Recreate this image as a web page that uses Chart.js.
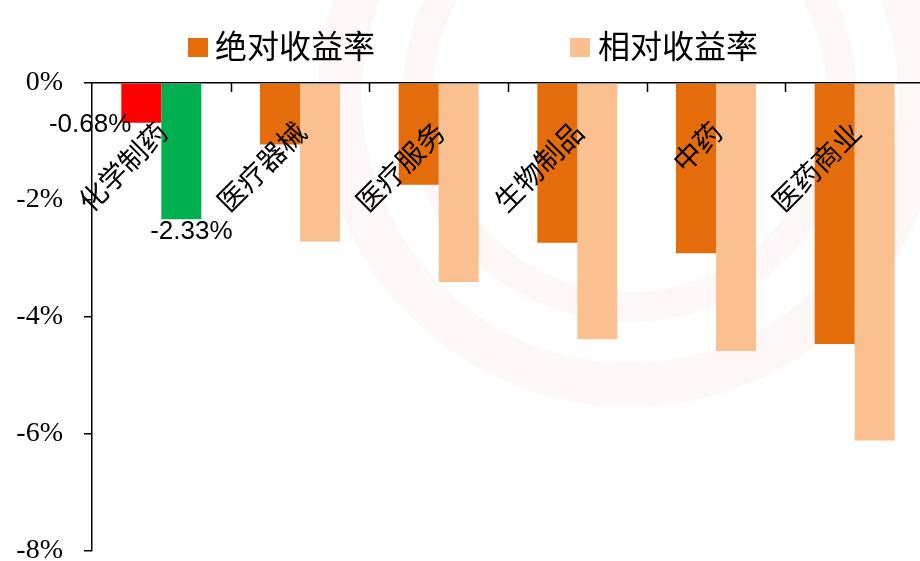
<!DOCTYPE html>
<html>
<head>
<meta charset="utf-8">
<script src="https://cdn.jsdelivr.net/npm/chart.js@4/dist/chart.umd.min.js"></script>
<style>
  html, body { margin: 0; padding: 0; background: #ffffff; overflow: hidden; width: 920px; height: 561px; }
  #wrap { position: absolute; left: 0; top: 0; width: 930px; height: 561px; }
</style>
</head>
<body>
<div id="wrap"><canvas id="c" width="930" height="561"></canvas></div>
<script>
// ---- data ----
const categories = ['化学制药', '医疗器械', '医疗服务', '生物制品', '中药', '医药商业'];
const seriesNames = ['绝对收益率', '相对收益率'];
const absoluteReturn = [-0.68, -1.05, -1.74, -2.73, -2.91, -4.46];
const relativeReturn = [-2.33, -2.71, -3.40, -4.38, -4.58, -6.11];
const yMin = -8, yMax = 0, yStep = 2;
const labelledIndex = [0]; // categories that carry value labels

// ---- colours ----
const absColor = '#E46C0A', relColor = '#FAC090';
const hiAbsColor = '#FF0000', hiRelColor = '#00B050';
const absColors = categories.map((c, i) => i === 0 ? hiAbsColor : absColor);
const relColors = categories.map((c, i) => i === 0 ? hiRelColor : relColor);

const cjk = '"Noto Sans CJK SC", "Noto Sans", sans-serif';

const watermark = {
  id: 'watermark',
  beforeDraw(chart) {
    const ctx = chart.ctx;
    ctx.save();
    ctx.strokeStyle = 'rgba(225,60,60,0.04)';
    ctx.lineWidth = 44;
    ctx.beginPath(); ctx.arc(630, 95, 290, 0, Math.PI * 2); ctx.stroke();
    ctx.lineWidth = 30;
    ctx.beginPath(); ctx.arc(630, 95, 212, 0, Math.PI * 2); ctx.stroke();
    ctx.restore();
  }
};

const overlay = {
  id: 'overlay',
  afterDatasetsDraw(chart) {
    const ctx = chart.ctx;
    const xs = chart.scales.x;
    ctx.save();
    // inward tick marks on the category axis
    ctx.strokeStyle = '#000'; ctx.lineWidth = 1.5;
    for (let i = 1; i < categories.length; i++) {
      const x = Math.round((xs.getPixelForValue(i - 1) + xs.getPixelForValue(i)) / 2) + 0.5;
      ctx.beginPath(); ctx.moveTo(x, chart.chartArea.top); ctx.lineTo(x, chart.chartArea.top + 9); ctx.stroke();
    }
    // rotated category labels inside the plot
    ctx.fillStyle = '#000';
    ctx.font = '28px ' + cjk;
    ctx.textAlign = 'right';
    ctx.textBaseline = 'middle';
    categories.forEach((c, i) => {
      const cx = xs.getPixelForValue(i);
      ctx.save();
      ctx.translate(cx + 1, chart.chartArea.top + 44);
      ctx.rotate(-Math.PI / 4);
      ctx.fillText(c, 0, 0);
      ctx.restore();
    });
    // value labels
    ctx.font = '26px "Liberation Sans", Arial, sans-serif';
    const m0 = chart.getDatasetMeta(0), m1 = chart.getDatasetMeta(1);
    labelledIndex.forEach(i => {
      const b0 = m0.data[i], b1 = m1.data[i];
      ctx.textAlign = 'right'; ctx.textBaseline = 'middle';
      ctx.fillText(absoluteReturn[i].toFixed(2) + '%', b0.x - 10, b0.y + 2);
      ctx.textAlign = 'center'; ctx.textBaseline = 'middle';
      ctx.fillText(relativeReturn[i].toFixed(2) + '%', b1.x + 10, b1.y + 13);
    });
    // legend
    const items = [
      { name: seriesNames[0], color: absColor, box: 188, text: 215 },
      { name: seriesNames[1], color: relColor, box: 570, text: 598 }
    ];
    ctx.font = '32px ' + cjk;
    ctx.textAlign = 'left'; ctx.textBaseline = 'middle';
    items.forEach(it => {
      ctx.fillStyle = it.color;
      ctx.fillRect(it.box, 38, 20, 19);
      ctx.fillStyle = '#000';
      ctx.fillText(it.name, it.text, 46);
    });
    ctx.restore();
  }
};

new Chart(document.getElementById('c'), {
  type: 'bar',
  data: {
    labels: categories,
    datasets: [
      { label: seriesNames[0], data: absoluteReturn, backgroundColor: absColors, borderWidth: 0 },
      { label: seriesNames[1], data: relativeReturn, backgroundColor: relColors, borderWidth: 0 }
    ]
  },
  options: {
    responsive: false,
    animation: false,
    devicePixelRatio: 1,
    layout: { padding: { left: 0, right: 6, top: 0, bottom: 10 } },
    datasets: { bar: { categoryPercentage: 0.577, barPercentage: 1.0 } },
    plugins: { legend: { display: false }, tooltip: { enabled: false } },
    scales: {
      x: {
        position: 'top',
        offset: true,
        grid: { display: false, drawOnChartArea: false },
        border: { display: true, color: '#000', width: 1.5 },
        ticks: { display: false },
        afterFit(s) { s.height = 83; s.paddingLeft = 0; s.paddingRight = 0; }
      },
      y: {
        min: yMin, max: yMax,
        grid: { drawOnChartArea: false, drawTicks: true, tickLength: 8, color: '#000', lineWidth: 1.5 },
        border: { display: true, color: '#000', width: 1.5 },
        ticks: {
          stepSize: yStep,
          padding: 21,
          color: '#000',
          font: { family: '"Liberation Serif", "Times New Roman", serif', size: 28 },
          callback: v => v + '%'
        },
        afterFit(s) { s.width = 92; s.paddingTop = 0; s.paddingBottom = 0; }
      }
    }
  },
  plugins: [watermark, overlay]
});
</script>
</body>
</html>
